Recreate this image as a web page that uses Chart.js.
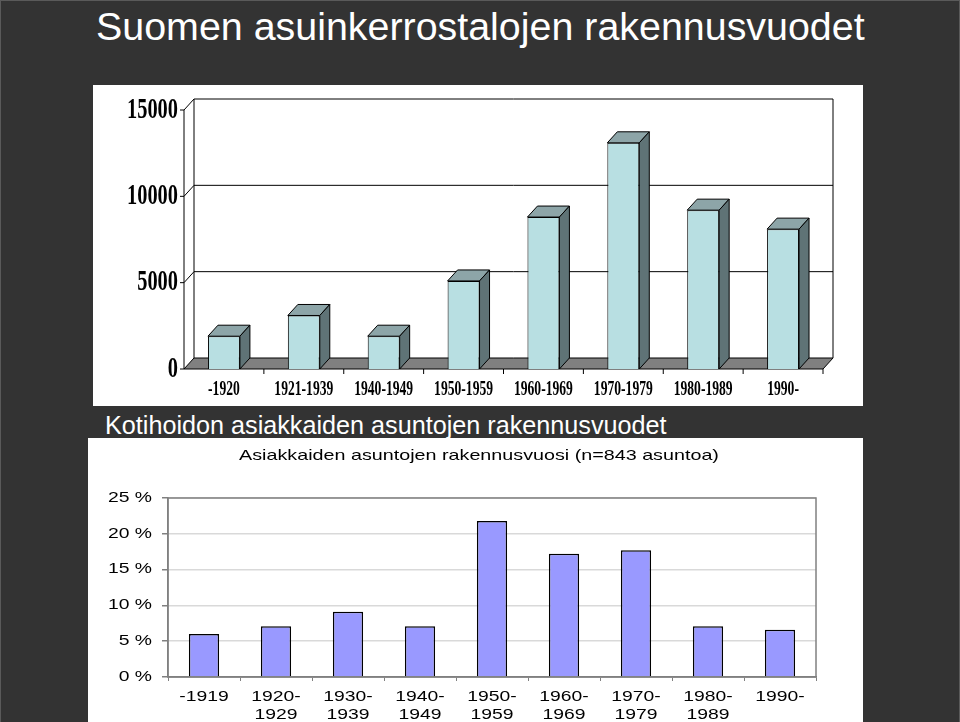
<!DOCTYPE html>
<html>
<head>
<meta charset="utf-8">
<title>Suomen asuinkerrostalojen rakennusvuodet</title>
<script src="https://cdn.jsdelivr.net/npm/chart.js@4.4.0/dist/chart.umd.min.js"></script>
<style>
  html, body { margin: 0; padding: 0; }
  body {
    width: 960px; height: 722px; overflow: hidden; position: relative;
    background: #333; box-sizing: border-box; border: 1px solid #5a5a5a; border-bottom: none;
    font-family: "Liberation Sans", Arial, sans-serif;
  }
  .txt { position: absolute; color: #fff; white-space: nowrap; }
  #title { left: 95px; top: 5px; font-size: 39.4px; line-height: 40px; }
  #heading { left: 104px; top: 412px; font-size: 25.2px; line-height: 24px; }
  .panel { position: absolute; background: #fff; }
  #topPanel { left: 92px; top: 84px; width: 770px; height: 321px; }
  #botPanel { left: 87px; top: 437px; width: 775px; height: 285px; }
  canvas { display: block; }
</style>
</head>
<body>
<div class="txt" id="title">Suomen asuinkerrostalojen rakennusvuodet</div>
<div class="panel" id="topPanel"><canvas id="topChart" width="770" height="321"></canvas></div>
<div class="txt" id="heading">Kotihoidon asiakkaiden asuntojen rakennusvuodet</div>
<div class="panel" id="botPanel"><canvas id="botChart" width="775" height="285"></canvas></div>

<script>
// --- top chart: all apartment blocks by construction period ---
const topLabels = ['-1920', '1921-1939', '1940-1949', '1950-1959', '1960-1969', '1970-1979', '1980-1989', '1990-'];
const topValues = [1900, 3100, 1900, 5100, 8800, 13100, 9200, 8100];
const topTicks = [0, 5000, 10000, 15000];

// --- bottom chart: home care clients' apartments (%) ---
const botTitle = 'Asiakkaiden asuntojen rakennusvuosi (n=843 asuntoa)';
const botLabels = [['-1919'], ['1920-', '1929'], ['1930-', '1939'], ['1940-', '1949'], ['1950-', '1959'],
  ['1960-', '1969'], ['1970-', '1979'], ['1980-', '1989'], ['1990-']];
const botValues = [6.0, 7.1, 9.1, 7.1, 21.8, 17.2, 17.7, 7.1, 6.6];
const botTicks = [0, 5, 10, 15, 20, 25];

// draw text squeezed / stretched horizontally
function stretchText(ctx, text, x, y, sx, align) {
  ctx.save();
  ctx.translate(x, y);
  ctx.scale(sx, 1);
  ctx.textAlign = align;
  ctx.textBaseline = 'middle';
  ctx.fillText(text, 0, 0);
  ctx.restore();
}

const DX = 10, DY = -11;   // 3d depth offset
const FRONT = '#b8dfe2', TOPFACE = '#8da5a8', SIDE = '#5f7376';

const box3d = {
  id: 'box3d',
  beforeDatasetsDraw(chart) {
    const { ctx, chartArea: a, scales: { y } } = chart;
    const L = a.left, R = a.right, T = a.top, B = a.bottom;
    ctx.save();
    ctx.strokeStyle = '#000';
    ctx.lineWidth = 1;
    // back wall
    ctx.fillStyle = '#fff';
    ctx.fillRect(L + DX, T + DY, R - L, B - T);
    ctx.beginPath();
    topTicks.forEach((v) => {
      const py = y.getPixelForValue(v);
      if (v > 0) {
        ctx.moveTo(L, py); ctx.lineTo(L + DX, py + DY); ctx.lineTo(R + DX, py + DY);
      }
      ctx.moveTo(L - 4, py); ctx.lineTo(L, py);
    });
    ctx.moveTo(L, T); ctx.lineTo(L, B);
    ctx.moveTo(L + DX, T + DY); ctx.lineTo(L + DX, B + DY);
    ctx.moveTo(R + DX, T + DY); ctx.lineTo(R + DX, B + DY);
    // category ticks below floor
    for (let i = 1; i <= topLabels.length; i++) {
      const px = L + (i * (R - L)) / topLabels.length;
      ctx.moveTo(px, B); ctx.lineTo(px, B + 5);
    }
    ctx.stroke();
    // floor
    ctx.beginPath();
    ctx.moveTo(L, B); ctx.lineTo(R, B); ctx.lineTo(R + DX, B + DY); ctx.lineTo(L + DX, B + DY);
    ctx.closePath();
    ctx.fillStyle = '#808080';
    ctx.fill();
    ctx.stroke();
    ctx.restore();
  },
  afterDatasetsDraw(chart) {
    const { ctx } = chart;
    ctx.save();
    ctx.strokeStyle = '#000';
    ctx.lineWidth = 1;
    chart.getDatasetMeta(0).data.forEach((bar) => {
      const x0 = bar.x - bar.width / 2, x1 = bar.x + bar.width / 2;
      const yt = bar.y, yb = bar.base;
      // top face
      ctx.beginPath();
      ctx.moveTo(x0, yt); ctx.lineTo(x0 + DX, yt + DY); ctx.lineTo(x1 + DX, yt + DY); ctx.lineTo(x1, yt);
      ctx.closePath();
      ctx.fillStyle = TOPFACE; ctx.fill(); ctx.stroke();
      // side face
      ctx.beginPath();
      ctx.moveTo(x1, yt); ctx.lineTo(x1 + DX, yt + DY); ctx.lineTo(x1 + DX, yb + DY); ctx.lineTo(x1, yb);
      ctx.closePath();
      ctx.fillStyle = SIDE; ctx.fill(); ctx.stroke();
    });
    ctx.restore();
  },
  afterDraw(chart) {
    const { ctx, chartArea: a, scales: { x, y } } = chart;
    ctx.save();
    ctx.fillStyle = '#000';
    ctx.font = 'bold 30px "Liberation Serif", "Times New Roman", serif';
    topTicks.forEach((v) => stretchText(ctx, String(v), a.left - 6, y.getPixelForValue(v), 0.68, 'right'));
    ctx.font = 'bold 20px "Liberation Serif", "Times New Roman", serif';
    topLabels.forEach((lab, i) => stretchText(ctx, lab, x.getPixelForValue(i), a.bottom + 21, 0.68, 'center'));
    ctx.restore();
  }
};

new Chart(document.getElementById('topChart'), {
  type: 'bar',
  data: {
    labels: topLabels,
    datasets: [{
      data: topValues,
      backgroundColor: FRONT,
      borderColor: '#000',
      borderWidth: 1,
      barPercentage: 0.4,
      categoryPercentage: 1,
    }],
  },
  options: {
    responsive: false,
    animation: false,
    layout: { padding: { left: 91, right: 40, top: 25, bottom: 37 } },
    plugins: { legend: { display: false }, tooltip: { enabled: false } },
    scales: {
      x: { display: false },
      y: { display: false, min: 0, max: 15000 },
    },
  },
  plugins: [box3d],
});

const flatText = {
  id: 'flatText',
  beforeDatasetsDraw(chart) {
    const { ctx, chartArea: a } = chart;
    ctx.save();
    ctx.strokeStyle = '#808080';
    ctx.lineWidth = 1.5;
    ctx.strokeRect(a.left, a.top, a.right - a.left, a.bottom - a.top);
    ctx.restore();
  },
  afterDraw(chart) {
    const { ctx, chartArea: a, scales: { x, y } } = chart;
    const SX = 1.38;
    ctx.save();
    ctx.fillStyle = '#000';
    ctx.font = '14.3px "Liberation Sans", Arial, sans-serif';
    stretchText(ctx, botTitle, (a.left + a.right) / 2 - 13, 18, SX, 'center');
    ctx.font = '14px "Liberation Sans", Arial, sans-serif';
    botTicks.forEach((v) => stretchText(ctx, v + ' %', a.left - 16, y.getPixelForValue(v), SX, 'right'));
    botLabels.forEach((lines, i) => {
      lines.forEach((ln, j) => stretchText(ctx, ln, x.getPixelForValue(i), a.bottom + 20 + j * 18, SX, 'center'));
    });
    ctx.restore();
  }
};

new Chart(document.getElementById('botChart'), {
  type: 'bar',
  data: {
    labels: botLabels.map((l) => l.join(' ')),
    datasets: [{
      data: botValues,
      backgroundColor: '#9999ff',
      borderColor: '#000',
      borderWidth: 1.5,
      barPercentage: 0.42,
      categoryPercentage: 1,
    }],
  },
  options: {
    responsive: false,
    animation: false,
    layout: { padding: { left: 74, right: 47, top: 60, bottom: 42 } },
    plugins: { legend: { display: false }, tooltip: { enabled: false } },
    scales: {
      x: {
        ticks: { display: false },
        grid: { drawOnChartArea: false, drawTicks: true, tickLength: 4, tickColor: '#808080', offset: true },
        border: { color: '#808080', width: 1.5 },
      },
      y: {
        min: 0, max: 25,
        ticks: { display: false, stepSize: 5 },
        grid: { color: '#d9d9d9', lineWidth: 1.5, tickLength: 6, tickColor: '#808080' },
        border: { color: '#808080', width: 1.5 },
      },
    },
  },
  plugins: [flatText],
});
</script>
</body>
</html>
